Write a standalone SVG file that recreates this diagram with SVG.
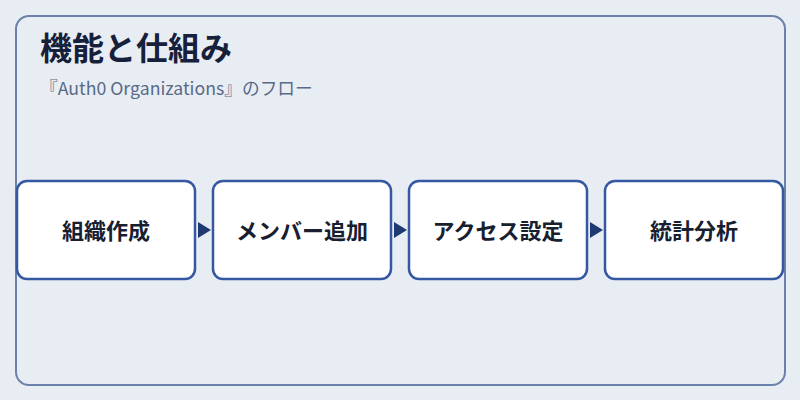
<svg xmlns="http://www.w3.org/2000/svg" width="800" height="400" viewBox="0 0 800 400">
<style>
.frame{fill:#e8edf3;stroke:#6b81aa;stroke-width:2}
.node rect{fill:#ffffff;stroke:#3558a2;stroke-width:2.5}
.node text{font-family:"Noto Sans CJK JP","Noto Sans",sans-serif;font-size:22px;font-weight:bold;fill:#18202f;text-anchor:middle;dominant-baseline:central}
.title{font-family:"Noto Sans CJK JP","Noto Sans",sans-serif;font-size:32px;font-weight:bold;fill:#16203a}
.sub{font-family:"Noto Sans CJK JP","Noto Sans",sans-serif;font-size:17.7px;fill:#586a88}
.arrow{fill:#1f3a72}
</style>
<rect x="0" y="0" width="800" height="400" fill="#e8edf3"/>
<rect class="frame" x="16" y="16" width="769" height="369" rx="13"/>
<text class="title" x="40" y="60">機能と仕組み</text>
<text class="sub" x="40" y="95">『Auth0 Organizations』のフロー</text>
<g id="connectors">
<polygon class="arrow" points="198,222 211,230 198,238"/>
<polygon class="arrow" points="394,222 407,230 394,238"/>
<polygon class="arrow" points="590,222 603,230 590,238"/>
</g>
<g id="node1" class="node"><rect x="17" y="181" width="178" height="98" rx="10"/><text x="106" y="229">組織作成</text></g>
<g id="node2" class="node"><rect x="213" y="181" width="178" height="98" rx="10"/><text x="302" y="229">メンバー追加</text></g>
<g id="node3" class="node"><rect x="409" y="181" width="178" height="98" rx="10"/><text x="498" y="229">アクセス設定</text></g>
<g id="node4" class="node"><rect x="605" y="181" width="178" height="98" rx="10"/><text x="694" y="229">統計分析</text></g>
</svg>
